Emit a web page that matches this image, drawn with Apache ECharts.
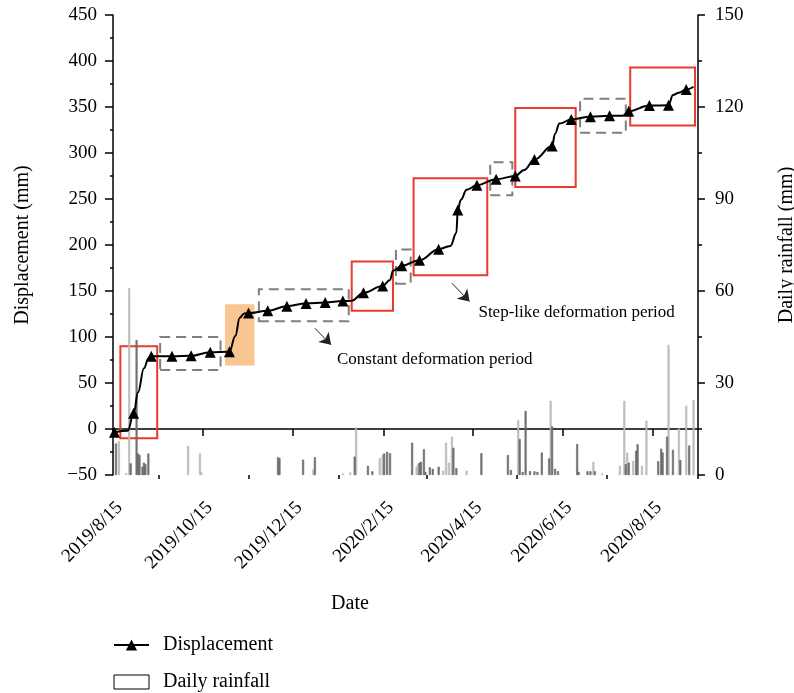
<!DOCTYPE html>
<html><head><meta charset="utf-8">
<script src="https://cdn.jsdelivr.net/npm/echarts@6/dist/echarts.min.js"></script>
<style>html,body{margin:0;padding:0;background:#fff}#c{width:794px;height:693px}</style>
</head><body><div id="c"></div>
<script>
// Displacement: surveyed points (triangle markers)
const markerDates = ['2019/8/16','2019/8/29','2019/9/10','2019/9/24','2019/10/7','2019/10/20','2019/11/2','2019/11/15','2019/11/28','2019/12/11','2019/12/24','2020/1/6','2020/1/18','2020/2/1','2020/2/14','2020/2/27','2020/3/10','2020/3/23','2020/4/5','2020/4/18','2020/5/1','2020/5/14','2020/5/27','2020/6/8','2020/6/21','2020/7/4','2020/7/17','2020/7/30','2020/8/13','2020/8/26','2020/9/7'];
const markerValues = [-3.5,17,79,79,79.5,83.5,84,126,128.5,133.5,136.5,137.5,139,148,155.5,177.5,183.5,195.5,238,265,271.5,275,293,307.5,336.5,339.5,340.5,345.5,351.5,352,369];
// Displacement: curve points read between markers (no marker)
const curveDates = ['2019/8/25','2019/9/1','2019/9/5','2019/9/8','2019/11/6','2019/11/9','2019/11/12','2020/1/24','2020/2/19','2020/2/21','2020/3/31','2020/4/4','2020/4/7','2020/4/11','2020/5/20','2020/6/10','2020/6/13','2020/7/26','2020/8/29','2020/9/2','2020/9/12'];
const curveValues = [-2,40,66,76.5,101,121,125.5,139.5,162,172,199,213,249,260,281.5,321,332,340.6,363,365.6,372];

// Daily rainfall (two grey tones in the figure)
const rainDarkDates = ['2019/8/17','2019/8/27','2019/8/31','2019/9/1','2019/9/2','2019/9/4','2019/9/5','2019/9/6','2019/9/8','2019/12/5','2019/12/6','2019/12/22','2019/12/30','2020/1/26','2020/2/4','2020/2/7','2020/2/15','2020/2/17','2020/2/19','2020/3/5','2020/3/10','2020/3/11','2020/3/13','2020/3/14','2020/3/17','2020/3/19','2020/3/23','2020/4/2','2020/4/4','2020/4/21','2020/5/9','2020/5/11','2020/5/17','2020/5/19','2020/5/21','2020/5/24','2020/5/27','2020/5/29','2020/6/1','2020/6/6','2020/6/8','2020/6/10','2020/6/12','2020/6/25','2020/6/26','2020/7/2','2020/7/4','2020/7/7','2020/7/28','2020/7/30','2020/8/4','2020/8/5','2020/8/19','2020/8/21','2020/8/22','2020/8/25','2020/8/29','2020/9/3','2020/9/9'];
const rainDarkValues = [10.3,3.8,44,7,6.5,2.7,4,3.5,7,5.8,5.5,5,5.8,6,3,1.2,7,7.6,7.1,10.5,4,4.3,8.4,1,2.5,2,2.7,8.9,2.2,7.1,6.5,1.6,11.7,1,20.9,1.2,1.2,1,7.3,5.4,15.8,2,1.2,10.1,1,1.2,1.2,1.2,3.5,4,7.9,10,4.5,8.6,7.3,12.5,8.2,4.9,9.6];
const rainLightDates = ['2019/8/19','2019/8/24','2019/8/26','2019/10/5','2019/10/13','2019/10/14','2019/12/29','2020/1/18','2020/1/23','2020/1/27','2020/2/12','2020/2/14','2020/3/8','2020/3/9','2020/3/26','2020/3/28','2020/3/30','2020/4/1','2020/4/11','2020/5/16','2020/6/7','2020/7/6','2020/7/12','2020/7/24','2020/7/27','2020/7/29','2020/8/2','2020/8/8','2020/8/11','2020/8/26','2020/9/2','2020/9/7','2020/9/12'];
const rainLightValues = [11,0.6,61,9.5,7.1,0.8,1.8,0.5,0.8,15.5,5.5,6.5,2.7,3.5,1.4,10.5,4,12.5,1.4,17.9,24.2,4.3,0.5,3,24.2,7.3,4.6,3,17.7,42.4,15.2,22.6,24.5];

const xTickLabels = ['2019/8/15','2019/10/15','2019/12/15','2020/2/15','2020/4/15','2020/6/15','2020/8/15'];
const xMinorTicks = ['2019/9/15','2019/11/15','2020/1/15','2020/3/15','2020/5/15','2020/7/15','2020/9/15'];

// Annotation boxes: [startDate, lowValue, endDate, highValue] in displacement units
const stepBoxes = [['2019/8/20',-10,'2019/9/14',90],['2020/1/24',128.5,'2020/2/21',182],['2020/3/6',167,'2020/4/25',272.5],['2020/5/14',263,'2020/6/24',349],['2020/7/31',330,'2020/9/13',393]];
const constantBoxes = [['2019/9/16',64,'2019/10/27',100],['2019/11/22',117,'2020/1/22',152],['2020/2/23',158,'2020/3/4',195],['2020/4/27',254,'2020/5/12',290],['2020/6/27',322,'2020/7/28',359]];
const highlightBoxes = [['2019/10/30',69,'2019/11/19',135.5]];

const FONT = 'Liberation Serif';

const categories = [];
for (let t = Date.UTC(2019,7,15); t <= Date.UTC(2020,8,15); t += 86400000) {
  const d = new Date(t);
  categories.push(d.getUTCFullYear() + '/' + (d.getUTCMonth() + 1) + '/' + d.getUTCDate());
}
const idx = s => categories.indexOf(s);
const pts = markerDates.map((d, i) => ({d, v: markerValues[i], m: true}))
  .concat(curveDates.map((d, i) => ({d, v: curveValues[i], m: false})));
pts.sort((a, b) => idx(a.d) - idx(b.d));
const lineData = pts.map(p => ({value: [p.d, p.v], symbol: p.m ? 'triangle' : 'none'}));

const boxItems = (boxes, style) => boxes.map(b => [
  {xAxis: b[0], yAxis: b[1], itemStyle: style},
  {xAxis: b[2], yAxis: b[3]}
]);
const redStyle = {color: 'rgba(0,0,0,0)', borderColor: '#ea3a2e', borderWidth: 2};
const grayStyle = {color: 'rgba(0,0,0,0)', borderColor: '#7f7f7f', borderWidth: 2, borderType: [10, 6]};
const orangeStyle = {color: '#f9c593', borderWidth: 0};

const chart = echarts.init(document.getElementById('c'), null, {renderer: 'canvas'});
chart.setOption({
  backgroundColor: '#fff',
  animation: false,
  textStyle: {fontFamily: FONT, color: '#000'},
  grid: {left: 113, right: 96, top: 15, bottom: 218, containLabel: false, outerBoundsMode: 'none'},
  legend: {
    orient: 'vertical', left: 113, top: 635, padding: 0, itemWidth: 35, itemHeight: 14, itemGap: 17,
    textStyle: {fontFamily: FONT, fontSize: 20, color: '#000', padding: [0, 0, 0, 9]},
    data: [
      {name: 'Displacement'},
      {name: 'Daily rainfall', icon: 'rect', itemStyle: {color: '#fff', borderColor: '#000', borderWidth: 1}}
    ]
  },
  xAxis: [{
    type: 'category', data: categories, boundaryGap: false,
    name: 'Date', nameLocation: 'middle', nameGap: 119,
    nameTextStyle: {fontFamily: FONT, fontSize: 20, color: '#000', padding: [0, 111, 0, 0]},
    axisLine: {show: true, lineStyle: {color: '#000', width: 1.5}},
    axisTick: {show: true, length: 7, interval: (i, v) => xTickLabels.includes(v), lineStyle: {color: '#000', width: 1.5}},
    axisLabel: {show: true, interval: (i, v) => xTickLabels.includes(v), rotate: 45, margin: 23, verticalAlign: 'top',
      fontFamily: FONT, fontSize: 19, color: '#000'},
    splitLine: {show: false}
  }, {
    type: 'category', data: categories, boundaryGap: false, position: 'bottom',
    axisLine: {show: false},
    axisTick: {show: true, length: 4, interval: (i, v) => xMinorTicks.includes(v), lineStyle: {color: '#000', width: 1.5}},
    axisLabel: {show: false}, splitLine: {show: false}
  }],
  yAxis: [{
    type: 'value', min: -50, max: 450, interval: 50, position: 'left',
    name: 'Displacement (mm)', nameLocation: 'middle', nameGap: 80, nameRotate: 90,
    nameTextStyle: {fontFamily: FONT, fontSize: 20, color: '#000'},
    axisLine: {show: true, lineStyle: {color: '#000', width: 1.5}},
    axisTick: {show: true, length: 8, lineStyle: {color: '#000', width: 1.5}},
    minorTick: {show: true, splitNumber: 2, length: 3, lineStyle: {color: '#000', width: 1.5}},
    axisLabel: {margin: 16, fontFamily: FONT, fontSize: 19, color: '#000',
      formatter: v => v < 0 ? '\u2212' + Math.abs(v) : String(v)},
    splitLine: {show: false}
  }, {
    type: 'value', min: 0, max: 150, interval: 30, position: 'right',
    name: 'Daily rainfall (mm)', nameLocation: 'middle', nameGap: 79, nameRotate: 90,
    nameTextStyle: {fontFamily: FONT, fontSize: 20, color: '#000'},
    axisLine: {show: true, lineStyle: {color: '#000', width: 1.5}},
    axisTick: {show: true, length: 7, lineStyle: {color: '#000', width: 1.5}},
    minorTick: {show: true, splitNumber: 2, length: 4, lineStyle: {color: '#000', width: 1.5}},
    axisLabel: {margin: 17, fontFamily: FONT, fontSize: 19, color: '#000'},
    splitLine: {show: false}
  }],
  series: [{
    name: 'Daily rainfall', type: 'bar', xAxisIndex: 0, yAxisIndex: 1, barWidth: 2, barGap: '-100%',
    data: rainLightDates.map((d, i) => [d, rainLightValues[i]]),
    itemStyle: {color: '#c6c6c6', borderColor: '#a8a8a8', borderWidth: 0.5}, z: 1
  }, {
    name: 'Daily rainfall', type: 'bar', xAxisIndex: 0, yAxisIndex: 1, barWidth: 2, barGap: '-100%',
    data: rainDarkDates.map((d, i) => [d, rainDarkValues[i]]),
    itemStyle: {color: '#7a7a7a', borderColor: '#555', borderWidth: 0.5}, z: 1
  }, {
    name: 'Displacement', type: 'line', xAxisIndex: 0, yAxisIndex: 0,
    data: lineData, smooth: 0.4, smoothMonotone: 'x',
    symbol: 'triangle', symbolSize: 11, showAllSymbol: true,
    lineStyle: {color: '#000', width: 2}, itemStyle: {color: '#000'}, z: 3,
    markArea: {silent: true, label: {show: false},
      data: boxItems(highlightBoxes, orangeStyle).concat(boxItems(stepBoxes, redStyle), boxItems(constantBoxes, grayStyle))},
    markLine: {silent: true, symbol: ['none', 'arrow'], symbolSize: 11, label: {show: false},
      lineStyle: {color: '#222', width: 1, type: 'solid'},
      itemStyle: {color: '#000'},
      data: [
        [{coord: ['2019/12/30', 109.5]}, {coord: ['2020/1/10', 91.5]}],
        [{coord: ['2020/4/1', 158.5]}, {coord: ['2020/4/13', 138.5]}]
      ]},
    markPoint: {silent: true, symbol: 'circle', symbolSize: 0,
      label: {show: true, position: 'right', distance: 0, fontFamily: FONT, fontSize: 17, color: '#000'},
      data: [
        {coord: ['2020/1/14', 76], label: {formatter: 'Constant deformation period'}},
        {coord: ['2020/4/19', 127], label: {formatter: 'Step-like deformation period'}}
      ]}
  }]
});
</script></body></html>
